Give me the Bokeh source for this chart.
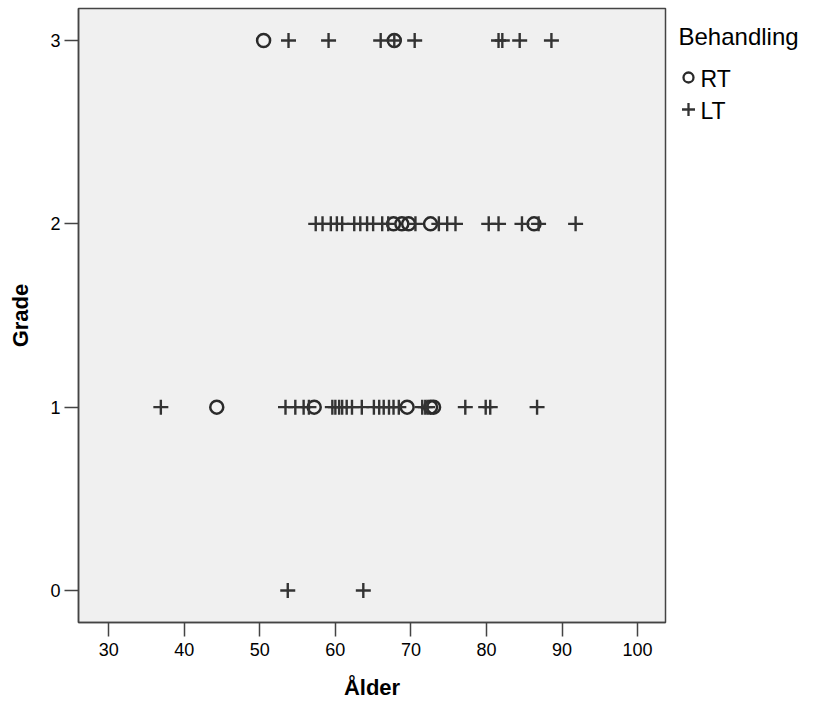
from bokeh.plotting import figure
from bokeh.layouts import row
from bokeh.models import FixedTicker, Range1d
from bokeh.core.properties import value
from bokeh.embed import file_html
from bokeh.resources import INLINE

x_ticks = [30, 40, 50, 60, 70, 80, 90, 100]
y_ticks = [0, 1, 2, 3]

# RT (circles)
rt_age = [50.5, 67.8,
          67.7, 68.8, 69.7, 72.6, 86.3,
          44.3, 57.2, 69.5, 72.6, 73.0]
rt_grade = [3, 3,
            2, 2, 2, 2, 2,
            1, 1, 1, 1, 1]

# LT (crosses)
lt_age = [53.8, 59.1, 66.0, 67.8, 70.5, 81.6, 82.1, 84.4, 88.6,
          57.4, 58.3, 59.4, 60.2, 60.9, 62.5, 63.3, 64.2, 65.0, 66.2, 67.0,
          70.6, 73.7, 74.8, 75.9, 80.3, 81.6, 84.7, 86.9, 91.8,
          36.9, 53.4, 54.7, 55.8, 56.5, 59.6, 60.0, 60.5, 60.9, 61.5, 62.2,
          63.5, 65.1, 65.8, 66.4, 67.1, 67.7, 68.4, 71.5, 71.9, 72.2, 77.2,
          79.9, 80.5, 86.7,
          53.7, 63.7]
lt_grade = [3] * 9 + [2] * 20 + [1] * 25 + [0] * 2

legend_title = "Behandling"
legend_labels = ["RT", "LT"]

FONT = "Liberation Sans"
INK = "#2a2a2a"

H = 706
p = figure(width=667, height=H, output_backend="svg", toolbar_location=None,
           x_range=Range1d(26.0, 103.7), y_range=Range1d(-0.175, 3.175),
           min_border_left=78, min_border_top=8, min_border_bottom=84,
           min_border_right=2)

p.background_fill_color = "#f0f0f0"
p.border_fill_color = "white"
p.outline_line_color = "#444444"
p.outline_line_width = 1.5
p.grid.visible = False

p.scatter(rt_age, rt_grade, marker="circle", size=13, fill_color=None,
          line_color=INK, line_width=2.5)
p.scatter(lt_age, lt_grade, marker="cross", size=15,
          line_color="#333333", line_width=2.4)

for ax in (p.xaxis[0], p.yaxis[0]):
    ax.axis_line_color = "#444444"
    ax.axis_line_width = 1.5
    ax.major_tick_line_color = "#444444"
    ax.major_tick_line_width = 1.5
    ax.major_tick_out = 14
    ax.major_tick_in = 0
    ax.minor_tick_line_color = None
    ax.major_label_text_font = FONT
    ax.major_label_text_font_size = "18px"
    ax.major_label_text_color = "black"
    ax.axis_label_text_font = FONT
    ax.axis_label_text_font_size = "22px"
    ax.axis_label_text_font_style = "bold"
    ax.axis_label_text_color = "black"

p.xaxis.ticker = FixedTicker(ticks=x_ticks)
p.yaxis.ticker = FixedTicker(ticks=y_ticks)
p.xaxis.axis_label = "Ålder"
p.yaxis.axis_label = "Grade"
p.xaxis.major_label_standoff = 6
p.yaxis.major_label_standoff = 4
p.xaxis.axis_label_standoff = 16
p.yaxis.axis_label_standoff = 14

# legend panel; its frame is aligned with the main frame
lg = figure(width=140, height=H, output_backend="svg", toolbar_location=None,
            x_range=Range1d(0, 140), y_range=Range1d(H - 84, 8),
            min_border=0)
lg.axis.visible = False
lg.grid.visible = False
lg.outline_line_color = None
lg.background_fill_color = "white"

lg.text(x=[11], y=[36], text=[legend_title], text_font=value(FONT),
        text_font_size="24px", text_color="black", text_baseline="middle")
lg.scatter(x=[21], y=[77], marker="circle", size=10, fill_color=None,
           line_color=INK, line_width=2.3)
lg.scatter(x=[21], y=[109], marker="cross", size=13,
           line_color="#333333", line_width=2.3)
lg.text(x=[33, 33], y=[78, 110], text=legend_labels, text_font=value(FONT),
        text_font_size="23px", text_color="black", text_baseline="middle")

layout = row(p, lg, spacing=0)
open("out.html", "w").write(file_html(layout, INLINE))
